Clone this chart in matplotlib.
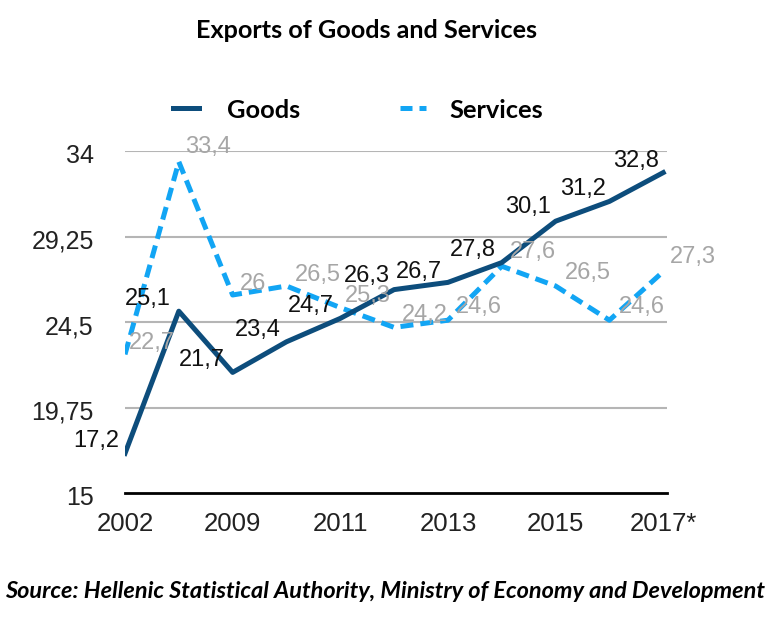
import matplotlib
matplotlib.use("Agg")
import matplotlib.pyplot as plt
from matplotlib.transforms import ScaledTranslation

years = ["2002", "2008", "2009", "2010", "2011", "2012", "2013", "2014", "2015", "2016", "2017*"]
goods = [17.2, 25.1, 21.7, 23.4, 24.7, 26.3, 26.7, 27.8, 30.1, 31.2, 32.8]
services = [22.7, 33.4, 26.0, 26.5, 25.3, 24.2, 24.6, 27.6, 26.5, 24.6, 27.3]
y_ticks = [15, 19.75, 24.5, 29.25, 34]

# label centre offsets in pixels (dx, dy) from each point
goods_off = [(-29, 15), (-31, 15), (-31, 15), (-29, 14), (-29, 15), (-27, 16),
             (-29, 13), (-29, 15), (-28, 17), (-26, 15), (-27, 14)]
serv_off = [(27, 14), (29, 17), (20, 14), (31, 14), (28, 14), (31, 15),
            (31, 16), (31, 17), (32, 15), (32, 16), (30, 17)]

GOODS_C = "#0d4d7c"
SERV_C = "#12a5f4"
ARIAL = ["Liberation Sans", "DejaVu Sans"]
CALIBRI = ["Lato", "DejaVu Sans"]


def fmt(v):
    return ("%g" % v).replace(".", ",")


fig = plt.figure(figsize=(7.72, 6.35), dpi=100)
ax = fig.add_axes([125 / 772, 1 - 493 / 635, 542 / 772, 342 / 635])

x = list(range(len(years)))
ax.plot(x, services, color=SERV_C, lw=3.6, dashes=(2.6, 1.4), zorder=3)
ax.plot(x, goods, color=GOODS_C, lw=3.6, zorder=3)

ax.set_ylim(15, 34)
ax.set_xlim(0, 10.07)
for v in y_ticks[1:]:
    ax.axhline(v, color="#b5b5b5", lw=1.5, zorder=1)
ax.axhline(15, color="black", lw=2.0, zorder=2, clip_on=False)

for s in ax.spines.values():
    s.set_visible(False)
ax.tick_params(length=0)
ax.tick_params(axis="x", pad=14)
ax.tick_params(axis="y", pad=22.5)
ax.set_yticks(y_ticks)
ax.set_yticklabels([fmt(v) for v in y_ticks], fontsize=18, family=ARIAL,
                   color="#222222", va="baseline")
down = ScaledTranslation(0, -12 / 100, fig.dpi_scale_trans)
for lbl in ax.get_yticklabels():
    lbl.set_transform(lbl.get_transform() + down)
ax.set_xticks(x[::2])
ax.set_xticklabels(years[::2], fontsize=18.5, family=ARIAL, color="#222222")

for i, v in enumerate(goods):
    dx, dy = goods_off[i]
    ax.annotate(fmt(v), (i, v), xytext=(dx, dy - 8.5), textcoords="offset pixels",
                ha="center", va="baseline", fontsize=17, family=ARIAL,
                color="#111111", zorder=4)
for i, v in enumerate(services):
    dx, dy = serv_off[i]
    ax.annotate(fmt(v), (i, v), xytext=(dx, dy - 8.5), textcoords="offset pixels",
                ha="center", va="baseline", fontsize=17, family=ARIAL,
                color="#a6a6a6", zorder=4)

renderer = fig.canvas.get_renderer()


def fit(t, width_px):
    w = t.get_window_extent(renderer).width
    t.set_fontsize(t.get_fontsize() * width_px / w)


title = fig.text(366 / 772, 1 - 31 / 635, "Exports of Goods and Services", ha="center",
                 va="center", fontsize=17, fontweight="bold", family=CALIBRI)
fit(title, 343)

# legend drawn by hand to match the reference layout
fig.lines.append(plt.Line2D([173 / 772, 199 / 772], [1 - 107.5 / 635] * 2,
                            transform=fig.transFigure, color=GOODS_C, lw=3.6))
fig.lines.append(plt.Line2D([400 / 772, 426 / 772], [1 - 107.5 / 635] * 2,
                            transform=fig.transFigure, color=SERV_C, lw=3.6,
                            dashes=(2.4, 1.4)))
g = fig.text(227 / 772, 1 - 111 / 635, "Goods", ha="left", va="center",
             fontsize=17, fontweight="bold", family=CALIBRI)
fit(g, 73)
s = fig.text(449 / 772, 1 - 111 / 635, "Services", ha="left", va="center",
             fontsize=17, fontweight="bold", family=CALIBRI)
fit(s, 94)

src = fig.text(385 / 772, 1 - 591 / 635,
               "Source: Hellenic Statistical Authority, Ministry of Economy and Development",
               ha="center", va="center", fontsize=15, fontweight="bold",
               fontstyle="italic", family=CALIBRI)
fit(src, 760)

fig.savefig("out.png", dpi=100, facecolor="white")
